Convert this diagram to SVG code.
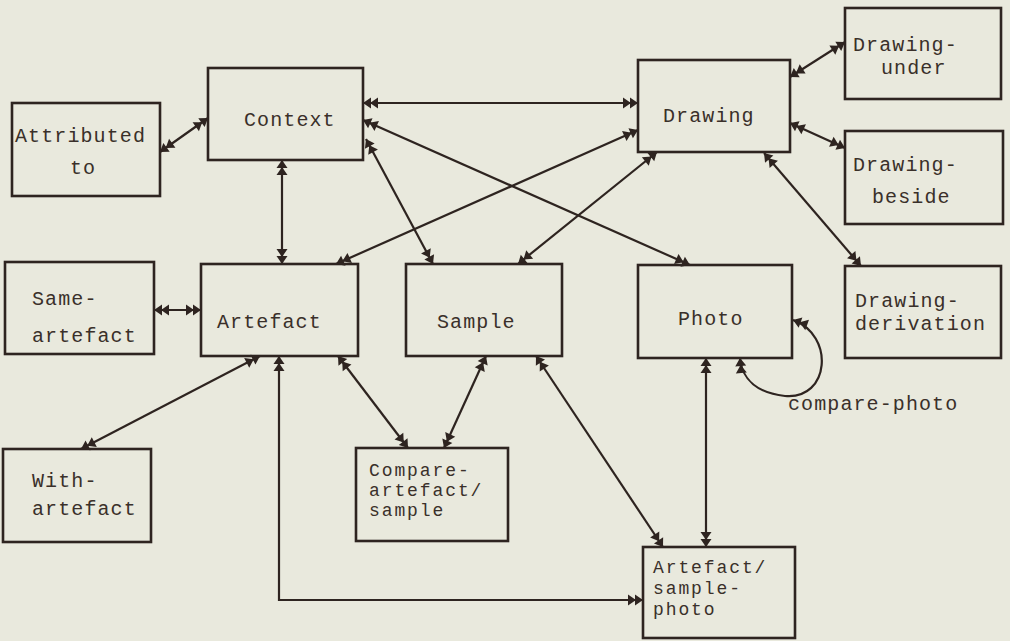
<svg xmlns="http://www.w3.org/2000/svg" width="1010" height="641" viewBox="0 0 1010 641">
<defs>
<marker id="dh" viewBox="0 0 17 12" refX="16" refY="6" markerWidth="17" markerHeight="12" markerUnits="userSpaceOnUse" orient="auto-start-reverse">
<path d="M1,0.5 L9,6 L1,11.5 Z M8,0.5 L16,6 L8,11.5 Z" fill="#2e2420"/>
</marker>
<style>
.box{fill:none;stroke:#2e2420;stroke-width:2.6}
.t{font-family:"Liberation Mono","DejaVu Sans Mono",monospace;font-size:20px;letter-spacing:1.1px;fill:#3a302a}
.s{font-size:18px;letter-spacing:1.9px}
.c{fill:none;stroke:#2e2420;stroke-width:2.2;marker-start:url(#dh);marker-end:url(#dh)}
</style>
</defs>
<rect width="1010" height="641" fill="#e9e9dd"/>
<g id="connectors">
<line class="c" x1="160" y1="152" x2="208" y2="118"/>
<line class="c" x1="363" y1="103" x2="638" y2="103"/>
<line class="c" x1="282" y1="160" x2="282" y2="264"/>
<line class="c" x1="366" y1="139" x2="433" y2="264"/>
<line class="c" x1="363" y1="120" x2="690" y2="265"/>
<line class="c" x1="638" y1="130" x2="336" y2="264"/>
<line class="c" x1="657" y1="152" x2="518" y2="264"/>
<line class="c" x1="790" y1="77" x2="845" y2="42"/>
<line class="c" x1="790" y1="123" x2="845" y2="148"/>
<line class="c" x1="764" y1="153" x2="861" y2="266"/>
<line class="c" x1="154" y1="310" x2="201" y2="310"/>
<line class="c" x1="260" y1="356" x2="81" y2="449"/>
<line class="c" x1="338" y1="356" x2="408" y2="448"/>
<line class="c" x1="486" y1="356" x2="444" y2="448"/>
<line class="c" x1="536" y1="356" x2="663" y2="547"/>
<line class="c" x1="706" y1="358" x2="706" y2="547"/>
<polyline class="c" points="279,356 279,600 643,600"/>
<path class="c" d="M793,320 C 835,335 830,400 785,396 C 758,393 742,380 740,358"/>
</g>
<g id="attributed"><rect class="box" x="12" y="103" width="148" height="93"/><text class="t" x="15" y="142">Attributed<tspan x="70" y="174">to</tspan></text></g>
<g id="context"><rect class="box" x="208" y="68" width="155" height="92"/><text class="t" x="244" y="126">Context</text></g>
<g id="drawing"><rect class="box" x="638" y="60" width="152" height="92"/><text class="t" x="663" y="122">Drawing</text></g>
<g id="drawing-under"><rect class="box" x="845" y="8" width="156" height="91"/><text class="t" x="853" y="51">Drawing-<tspan x="881" y="74">under</tspan></text></g>
<g id="drawing-beside"><rect class="box" x="845" y="131" width="158" height="93"/><text class="t" x="853" y="171">Drawing-<tspan x="872" y="203">beside</tspan></text></g>
<g id="drawing-derivation"><rect class="box" x="845" y="266" width="156" height="92"/><text class="t" x="855" y="307">Drawing-<tspan x="855" y="330">derivation</tspan></text></g>
<g id="same-artefact"><rect class="box" x="5" y="262" width="149" height="92"/><text class="t" x="32" y="305">Same-<tspan x="32" y="342">artefact</tspan></text></g>
<g id="artefact"><rect class="box" x="201" y="264" width="157" height="92"/><text class="t" x="217" y="328">Artefact</text></g>
<g id="sample"><rect class="box" x="406" y="264" width="156" height="92"/><text class="t" x="437" y="328">Sample</text></g>
<g id="photo"><rect class="box" x="638" y="265" width="154" height="93"/><text class="t" x="678" y="325">Photo</text></g>
<g id="with-artefact"><rect class="box" x="3" y="449" width="148" height="93"/><text class="t" x="32" y="487">With-<tspan x="32" y="515">artefact</tspan></text></g>
<g id="compare"><rect class="box" x="356" y="448" width="152" height="93"/><text class="t s" x="369" y="476">Compare-<tspan x="369" y="496">artefact/</tspan><tspan x="369" y="516">sample</tspan></text></g>
<g id="artefact-sample-photo"><rect class="box" x="643" y="547" width="152" height="91"/><text class="t s" x="653" y="573">Artefact/<tspan x="653" y="594">sample-</tspan><tspan x="653" y="615">photo</tspan></text></g>
<text class="t" x="788" y="410">compare-photo</text>
</svg>
